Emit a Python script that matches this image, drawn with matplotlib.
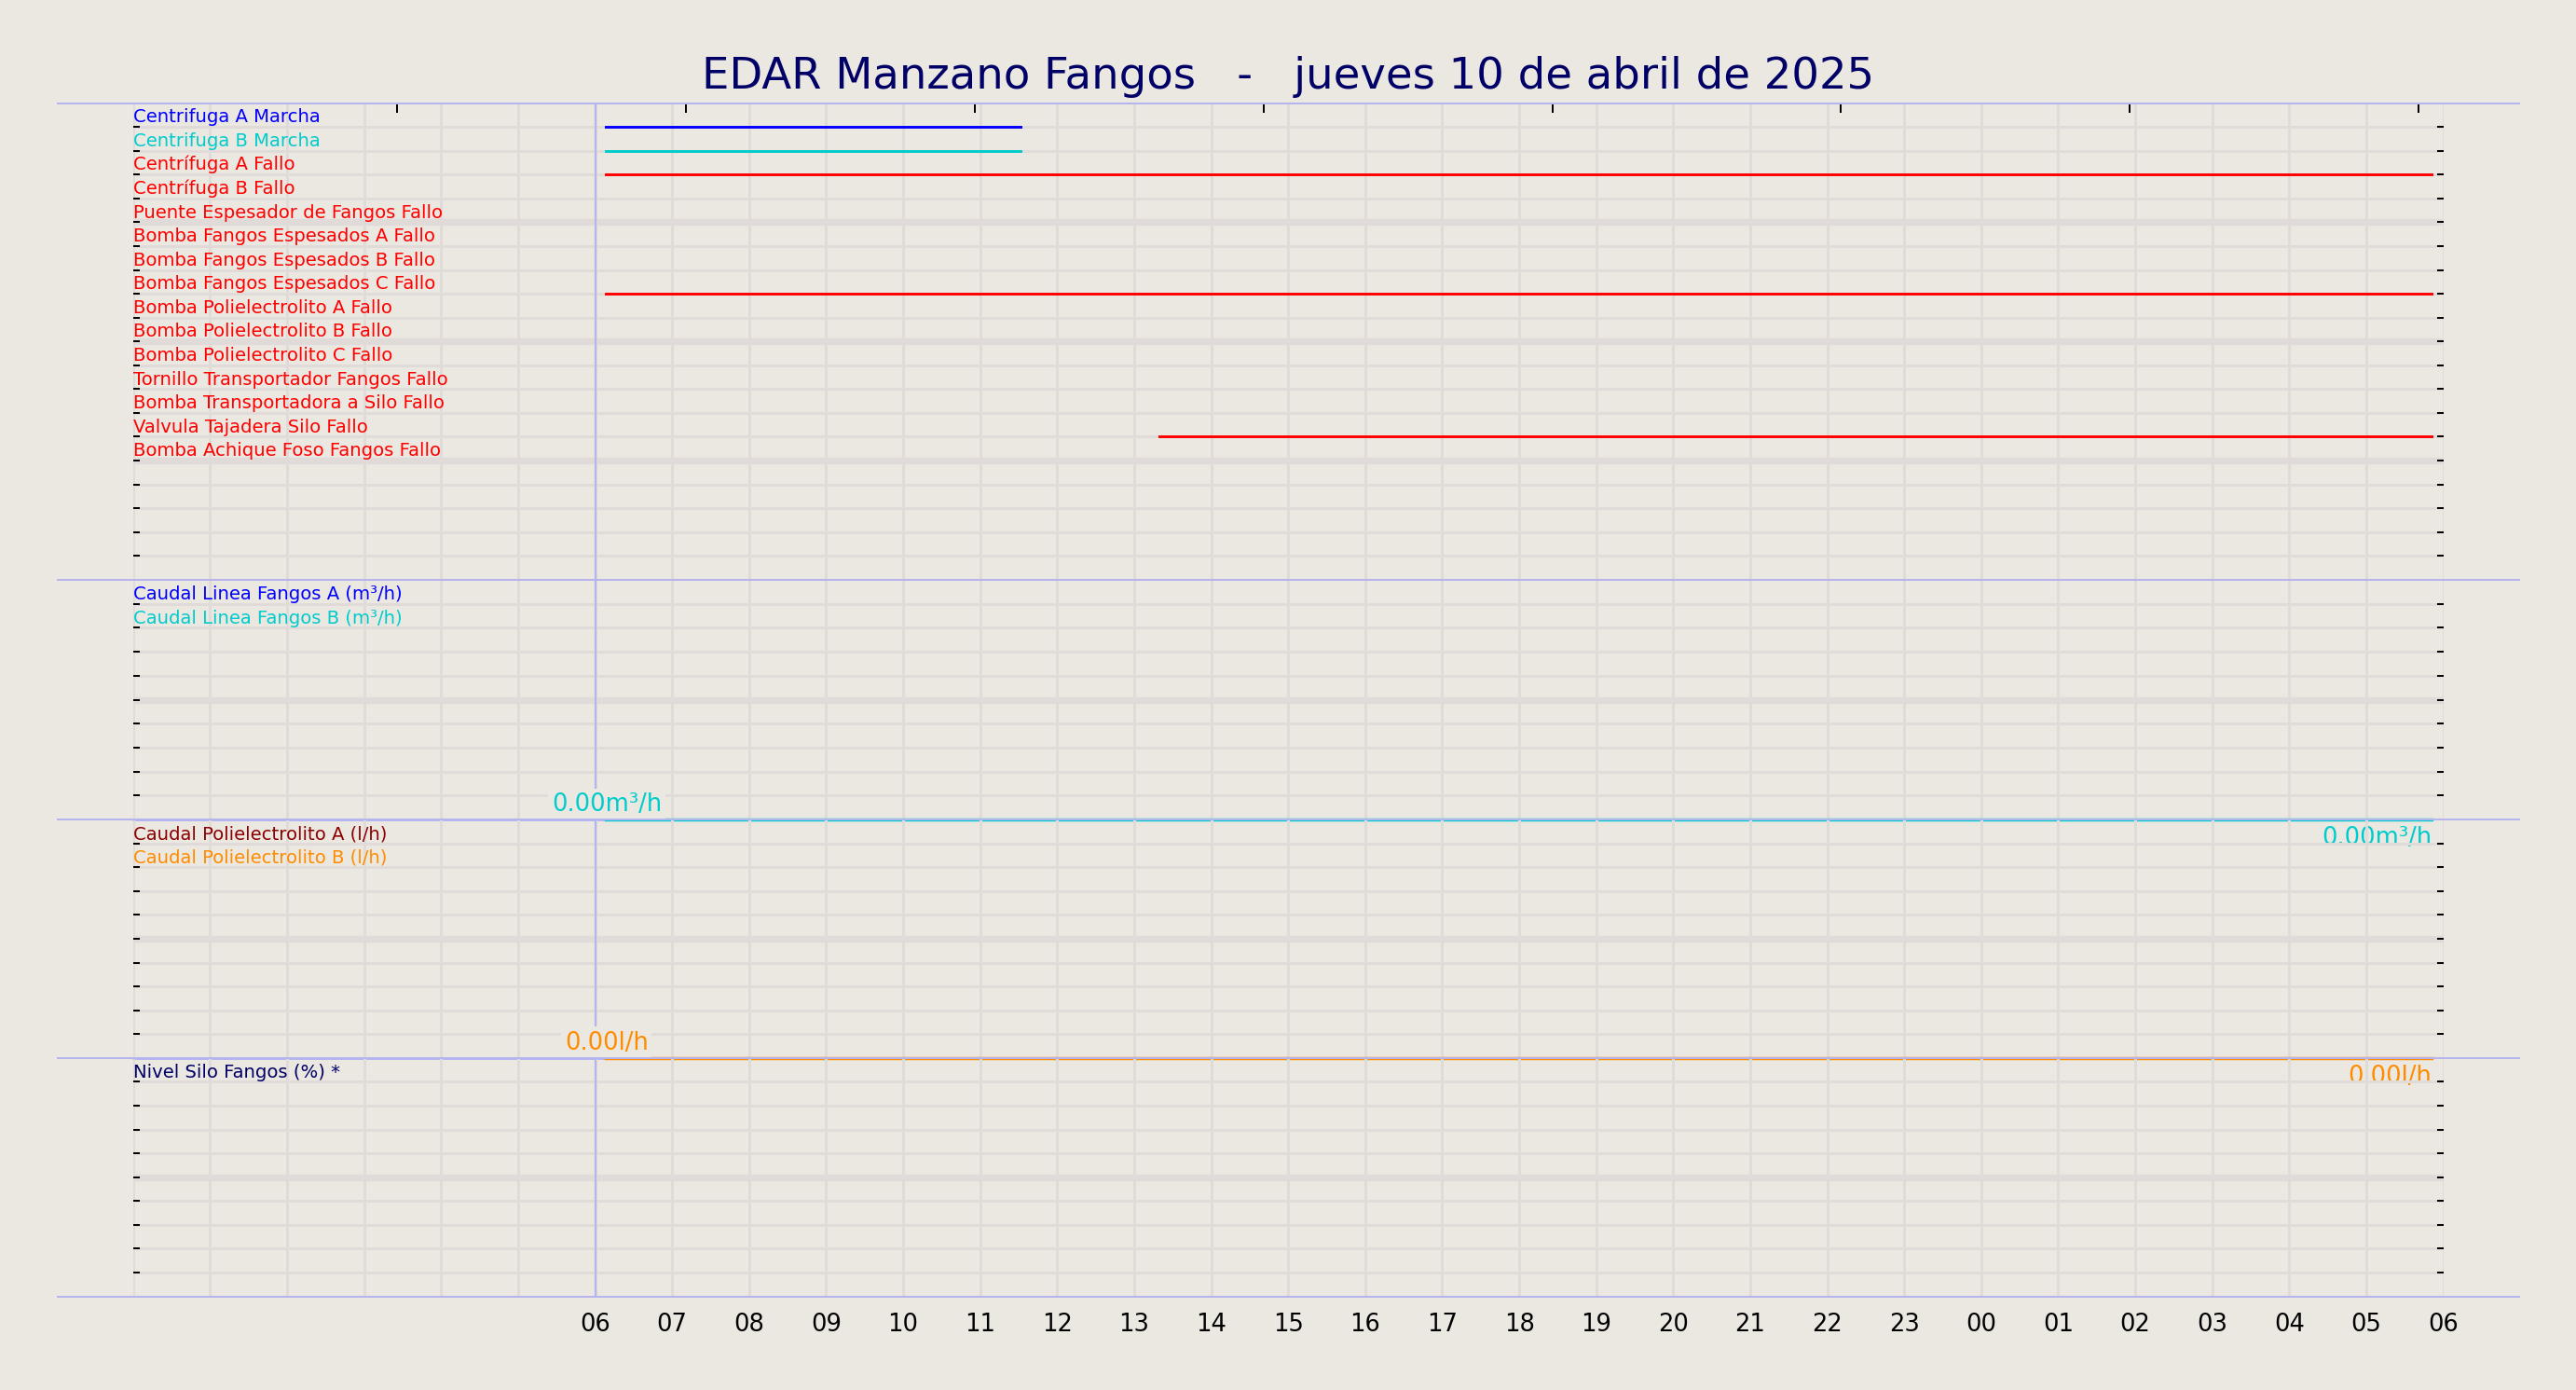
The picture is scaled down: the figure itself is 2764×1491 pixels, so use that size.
import matplotlib.pyplot as plt
import numpy as np

bg = '#ebe7e1'
grid_c = '#e0dbd8'
lav = '#b4b4f0'

# Señales digitales (fila, etiqueta, color, tramos en horas desde 00:00)
dig_labels = ['Centrifuga A Marcha', 'Centrifuga B Marcha', 'Centrífuga A Fallo', 'Centrífuga B Fallo',
              'Puente Espesador de Fangos Fallo', 'Bomba Fangos Espesados A Fallo',
              'Bomba Fangos Espesados B Fallo', 'Bomba Fangos Espesados C Fallo',
              'Bomba Polielectrolito A Fallo', 'Bomba Polielectrolito B Fallo',
              'Bomba Polielectrolito C Fallo', 'Tornillo Transportador Fangos Fallo',
              'Bomba Transportadora a Silo Fallo', 'Valvula Tajadera Silo Fallo',
              'Bomba Achique Foso Fangos Fallo']
dig_colors = ['#0000ff', '#00cccc'] + ['#ff0000'] * 13
dig_start = [6.14, 6.14, 6.14, None, None, None, None, 6.14, None, None, None, None, None, 13.33, None]
dig_end = [11.53, 11.53, 29.85, None, None, None, None, 29.85, None, None, None, None, None, 29.85, None]

flow_labels = ['Caudal Linea Fangos A (m³/h)', 'Caudal Linea Fangos B (m³/h)']
flow_colors = ['#0000ff', '#00cccc']
poly_labels = ['Caudal Polielectrolito A (l/h)', 'Caudal Polielectrolito B (l/h)']
poly_colors = ['#8b0000', '#ff8c00']
silo_labels = ['Nivel Silo Fangos (%) *']
silo_colors = ['#000066']

data_start = 6.14
data_end = 29.85
flow_value = 0.0
poly_value = 0.0

hours = np.arange(6, 31)
hour_labels = ['%02d' % (h % 24) for h in hours]

fig = plt.figure(figsize=(15.68, 8.46), dpi=176.3, facecolor=bg)
L, R = 81 / 1568, 1487 / 1568
edges = [63, 353, 499, 644, 789]
axes = []
for i in range(4):
    top = 1 - edges[i] / 846
    bot = 1 - edges[i + 1] / 846
    ax = fig.add_axes([L, bot, R - L, top - bot], facecolor='none')
    axes.append(ax)
    nrows = 20 if i == 0 else 10
    ax.set_xlim(0, 30)
    ax.set_ylim(0, nrows)
    for h in range(31):
        ax.axvline(h, color=grid_c, lw=1.2, zorder=0)
    for y in range(1, nrows):
        ax.axhline(y, color=grid_c, lw=3 if y % 5 == 0 else 1.2, zorder=0)
    ax.set_yticks(range(1, nrows))
    ax.tick_params(axis='y', left=True, right=True, labelleft=False, length=3, width=0.8, direction='in')
    ax.tick_params(axis='x', bottom=False, labelbottom=False)
    for s in ax.spines.values():
        s.set_visible(False)
    ax.axvline(6, color=lav, lw=0.9, zorder=1)

# panel digital
ax = axes[0]
for k, lab in enumerate(dig_labels):
    y = 19 - k
    ax.text(0, y + 0.05, lab, color=dig_colors[k], fontsize=8, va='bottom', ha='left')
    if dig_start[k] is not None:
        ax.plot([dig_start[k], dig_end[k]], [y, y], color=dig_colors[k], lw=1.2, zorder=3)
ax.set_xticks(3.43 + 3.75 * np.arange(8))
ax.tick_params(axis='x', top=True, bottom=False, direction='in', length=4, labeltop=False)

def analog(ax, labels, colors, value, unit, main_color):
    for k, lab in enumerate(labels):
        ax.text(0, 9.0 - k + 0.05, lab, color=colors[k], fontsize=8, va='bottom', ha='left')
    if value is None:
        return
    ax.plot([0, data_start], [value, value], color=lav, lw=1.2, zorder=2, clip_on=False)
    ax.plot([data_start, data_end], [value, value], color=main_color, lw=1.4, zorder=2, clip_on=False)
    ax.text(6.15, value + 0.15, '%.2f%s' % (value, unit), color=main_color, fontsize=10.5,
            ha='center', va='bottom', zorder=4, bbox=dict(facecolor=bg, edgecolor='none', pad=1.5))
    ax.text(data_end, value - 0.25, '%.2f%s' % (value, unit), color=main_color, fontsize=10.5,
            ha='right', va='top', zorder=4)

analog(axes[1], flow_labels, flow_colors, flow_value, 'm³/h', flow_colors[1])
analog(axes[2], poly_labels, poly_colors, poly_value, 'l/h', poly_colors[1])
analog(axes[3], silo_labels, silo_colors, None, '', None)

axes[3].set_xticks(hours)
axes[3].set_xticklabels(hour_labels, fontsize=10.5)
axes[3].tick_params(axis='x', labelbottom=True, length=0, pad=7)

for yy in edges:
    fig.add_artist(plt.Line2D([35 / 1568, 1533 / 1568], [1 - yy / 846] * 2, color=lav, lw=0.8))

fig.text(0.5, 1 - 47 / 846, 'EDAR Manzano Fangos   -   jueves 10 de abril de 2025',
         ha='center', va='center', fontsize=19, color='#000066')

fig.savefig('out.png', dpi=176.3, facecolor=bg)
